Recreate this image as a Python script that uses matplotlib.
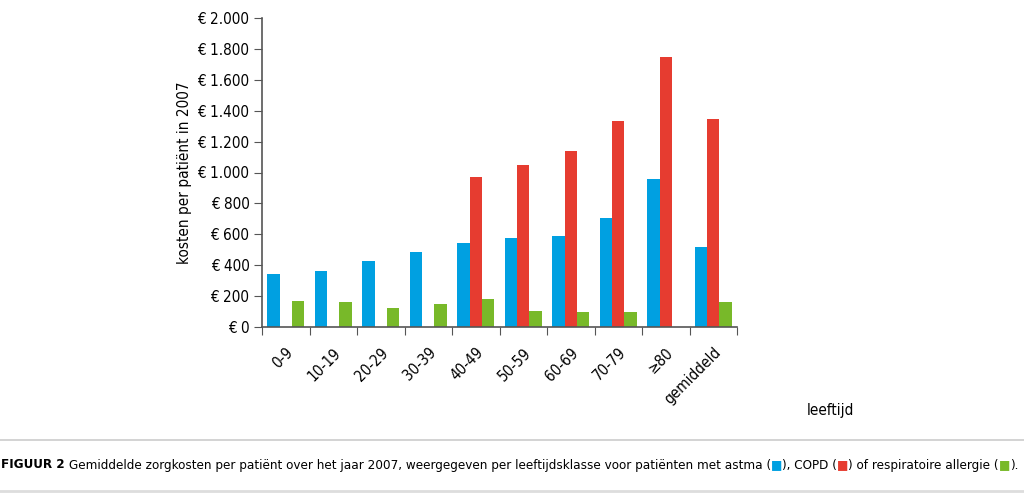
import matplotlib
matplotlib.use('Agg')

import matplotlib.pyplot as plt
import numpy as np


GROUPS = ['0-9', '10-19', '20-29', '30-39', '40-49', '50-59', '60-69',
          '70-79', '≥80', 'gemiddeld']
ASTMA = [345, 360, 430, 485, 545, 575, 590, 705, 955, 520]
COPD = [0, 0, 0, 0, 970, 1050, 1140, 1335, 1750, 1345]
ALLERGIE = [170, 160, 125, 150, 180, 105, 100, 95, 0, 160]
YTICKS = [0, 200, 400, 600, 800, 1000, 1200, 1400, 1600, 1800, 2000]

BLUE = '#00a0e1'
RED = '#e63c30'
GREEN = '#78b929'
AXIS = '#555555'

plt.rcParams['font.family'] = ['DejaVu Sans']
plt.rcParams['font.stretch'] = 'condensed'


def euro(v):
    return "€ " + f"{v:,}".replace(",", ".")


def draw_caption(fig, y, size):
    """ caption in pieces, with coloured squares """
    parts = [
        ("FIGUUR 2 ", 'black', 'bold'),
        ("Gemiddelde zorgkosten per patiënt over het jaar 2007, weergegeven "
         "per leeftijdsklasse voor patiënten met astma (", 'black', 'normal'),
        ("■", BLUE, 'normal'),
        ("), COPD (", 'black', 'normal'),
        ("■", RED, 'normal'),
        (") of respiratoire allergie (", 'black', 'normal'),
        ("■", GREEN, 'normal'),
        (").", 'black', 'normal'),
    ]
    renderer = fig.canvas.get_renderer()
    x = 1 / fig.bbox.width
    texts = []
    for txt, col, weight in parts:
        t = fig.text(x, y, txt, color=col, fontsize=size, fontweight=weight,
                     va='center', ha='left')
        bb = t.get_window_extent(renderer)
        x += bb.width / fig.bbox.width
        texts.append(t)
    return x, texts


def main():
    fig = plt.figure(figsize=(10.24, 4.99), dpi=100)
    ax = fig.add_axes([262 / 1024, 1 - 327 / 499, 475 / 1024, 309 / 499])

    x = np.arange(len(GROUPS))
    w = 0.26
    ax.bar(x - w, ASTMA, w, color=BLUE)
    ax.bar(x, COPD, w, color=RED)
    ax.bar(x + w, ALLERGIE, w, color=GREEN)

    ax.set_xlim(-0.5, len(GROUPS) - 0.5)
    ax.set_ylim(0, 2000)
    ax.set_yticks(YTICKS)
    ax.set_yticklabels([euro(v) for v in YTICKS], fontsize=11)

    ax.set_xticks(np.arange(len(GROUPS) + 1) - 0.5)
    ax.set_xticklabels([])
    ax.set_xticks(x, minor=True)
    ax.set_xticklabels(GROUPS, minor=True, rotation=45, ha='right',
                       va='top', fontsize=11, rotation_mode='anchor')
    ax.tick_params(axis='x', which='minor', length=0, pad=13)
    ax.tick_params(axis='x', which='major', length=6, color=AXIS)
    ax.tick_params(axis='y', length=6, color=AXIS, pad=3)

    for s in ('top', 'right'):
        ax.spines[s].set_visible(False)
    for s in ('left', 'bottom'):
        ax.spines[s].set_color(AXIS)
        ax.spines[s].set_linewidth(1.2)

    ax.set_ylabel("kosten per patiënt in 2007", fontsize=11, labelpad=4)
    fig.text(830 / 1024, 1 - 410 / 499, "leeftijd", fontsize=11,
             ha='center', va='center')

    # grey rules round the caption
    fig.add_artist(plt.Line2D([0, 1], [1 - 440 / 499] * 2, color='#cccccc',
                              lw=1.2, transform=fig.transFigure))
    fig.add_artist(plt.Line2D([0, 1], [1 - 491 / 499] * 2, color='#dddddd',
                              lw=2, transform=fig.transFigure))

    # shrink the caption until it fits the width
    size = 11
    end, texts = draw_caption(fig, 1 - 465 / 499, size)
    while end > 1021 / 1024 and size > 6:
        for t in texts:
            t.remove()
        size -= 0.1
        end, texts = draw_caption(fig, 1 - 465 / 499, size)

    fig.savefig('out.png', dpi=100)


if __name__ == "__main__":
    main()
